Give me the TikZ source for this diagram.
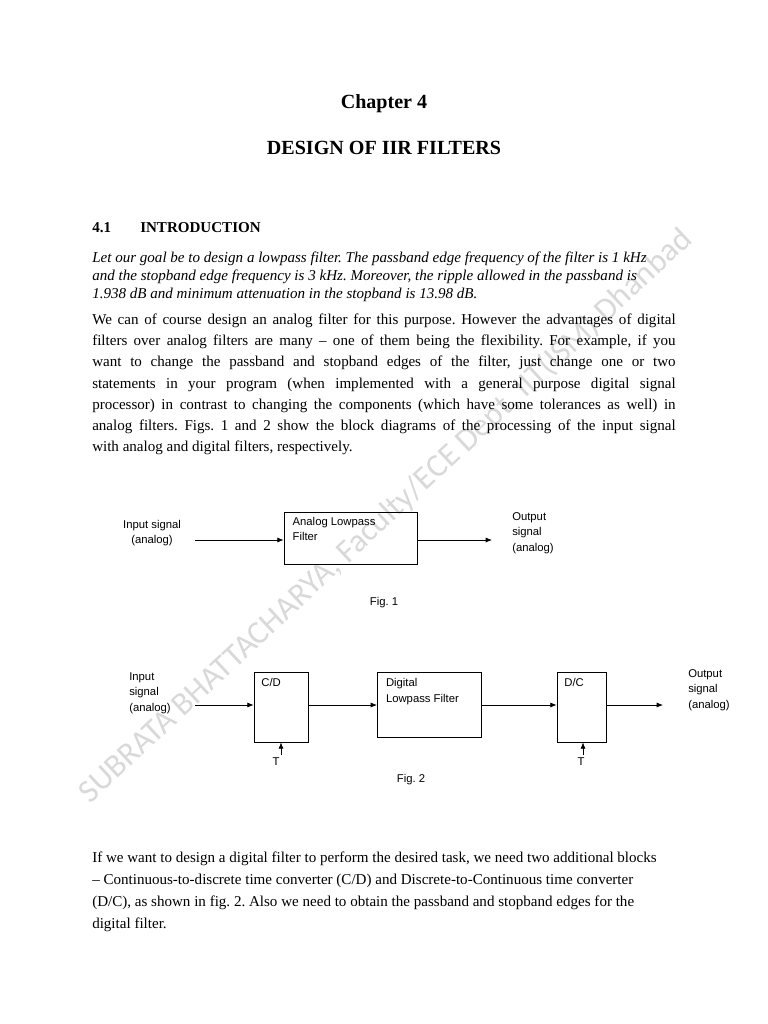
\documentclass[tikz,border=0pt]{standalone}
\usepackage{fontspec}
\setmainfont{Liberation Serif}
\newfontfamily\diag{Liberation Sans}
\newfontfamily\wm{Carlito}
\usetikzlibrary{arrows.meta}
\frenchspacing
\begin{document}
\begin{tikzpicture}[x=0.797pt,y=-0.797pt,
  ln/.style={anchor=base west,inner sep=0,font=\fontsize{12}{14}\selectfont},
  jl/.style={ln},
  lab/.style={font=\diag\fontsize{9}{12.5}\selectfont,inner sep=0,align=center},
  blk/.style={draw,line width=0.6pt,inner sep=0},
  conn/.style={-{Latex[length=5pt,width=4pt]},line width=0.6pt}]
\useasboundingbox (0,0) rectangle (768,1024);
\fill[white] (0,0) rectangle (768,1024);
% watermark
\node[rotate=43,text=gray!30,font=\wm\fontsize{26}{26}\selectfont,inner sep=0] (wm) at (386,516) {SUBRATA BHATTACHARYA, Faculty/ECE Dept, IIT(ISM) Dhanbad};
% headings
\node[anchor=base,inner sep=0,font=\bfseries\fontsize{16}{18}\selectfont] (ch) at (384,108) {Chapter 4};
\node[anchor=base,inner sep=0,font=\bfseries\fontsize{16}{18}\selectfont] (tt) at (384,154) {DESIGN OF IIR FILTERS};
\node[ln,font=\bfseries\fontsize{12}{14}\selectfont] (sn) at (92,232) {4.1};
\node[ln,font=\bfseries\fontsize{12}{14}\selectfont] (st) at (140,232) {INTRODUCTION};
% para 1
\node[ln,font=\itshape\fontsize{12}{14}\selectfont] (p1a) at (92,262) {Let our goal be to design a lowpass filter. The passband edge frequency of the filter is 1 kHz};
\node[ln,font=\itshape\fontsize{12}{14}\selectfont] (p1b) at (92,280) {and the stopband edge frequency is 3 kHz. Moreover, the ripple allowed in the passband is};
\node[ln,font=\itshape\fontsize{12}{14}\selectfont] (p1c) at (92,298) {1.938 dB and minimum attenuation in the stopband is 13.98 dB.};
% para 2
\node[jl] (p2a) at (92,324) {\makebox[465pt][s]{We can of course design an analog filter for this purpose. However the advantages of digital}};
\node[jl] (p2b) at (92,345) {\makebox[465pt][s]{filters over analog filters are many -- one of them being the flexibility. For example, if you}};
\node[jl] (p2c) at (92,366) {\makebox[465pt][s]{want to change the passband and stopband edges of the filter, just change one or two}};
\node[jl] (p2d) at (92,388) {\makebox[465pt][s]{statements in your program (when implemented with a general purpose digital signal}};
\node[jl] (p2e) at (92,409) {\makebox[465pt][s]{processor) in contrast to changing the components (which have some tolerances as well) in}};
\node[jl] (p2f) at (92,430) {\makebox[465pt][s]{analog filters. Figs. 1 and 2 show the block diagrams of the processing of the input signal}};
\node[jl] (p2g) at (92,451) {with analog and digital filters, respectively.};
% Fig 1
\node[blk,minimum width=133*0.797pt,minimum height=52*0.797pt] (af) at (350.5,538) {};
\node[lab,anchor=north west,align=left] (aft) at ([xshift=7pt,yshift=-4pt]af.north west) {Analog Lowpass\\Filter};
\node[lab] (in1) at (152,533) {Input signal\\(analog)};
\node[lab,align=left,anchor=west] (out1) at (512,533) {Output\\signal\\(analog)};
\coordinate (i1) at (195,540);
\coordinate (o1) at (492,540);
\draw[conn] (i1) -- (i1 -| af.west);
\draw[conn] (af.east |- o1) -- (o1);
\node[lab] (f1) at (384,603) {Fig. 1};
% Fig 2
\node[blk,minimum width=54*0.797pt,minimum height=70*0.797pt] (cd) at (281,707) {};
\node[lab,anchor=north west] (cdt) at ([xshift=6pt,yshift=-5pt]cd.north west) {C/D};
\node[blk,minimum width=104*0.797pt,minimum height=65*0.797pt,anchor=north west] (df) at (377,672) {};
\node[lab,anchor=north west,align=left] (dft) at ([xshift=7pt,yshift=-5pt]df.north west) {Digital\\Lowpass Filter};
\node[blk,minimum width=49*0.797pt,minimum height=70*0.797pt] (dc) at (581.5,707) {};
\node[lab,anchor=north west] (dct) at ([xshift=6pt,yshift=-5pt]dc.north west) {D/C};
\node[lab,align=left] (in2) at (150,693) {Input\\signal\\(analog)};
\node[lab,align=left,anchor=west] (out2) at (688,690) {Output\\signal\\(analog)};
\coordinate (i2) at (195,705);
\coordinate (o2) at (663,705);
\draw[conn] (i2) -- (i2 -| cd.west);
\draw[conn] (cd.east |- i2) -- (i2 -| df.west);
\draw[conn] (df.east |- i2) -- (i2 -| dc.west);
\draw[conn] (dc.east |- o2) -- (o2);
\coordinate (t1) at (281,755);
\coordinate (t2) at (583,755);
\draw[conn] (t1) -- (t1 |- cd.south);
\draw[conn] (t2) -- (t2 |- dc.south);
\node[lab] (T1) at (276,762) {T};
\node[lab] (T2) at (581,762) {T};
\node[lab] (f2) at (411,780) {Fig. 2};
% para 3
\node[ln] (p3a) at (92,862) {If we want to design a digital filter to perform the desired task, we need two additional blocks};
\node[ln] (p3b) at (92,884) {-- Continuous-to-discrete time converter (C/D) and Discrete-to-Continuous time converter};
\node[ln] (p3c) at (92,906) {(D/C), as shown in fig. 2. Also we need to obtain the passband and stopband edges for the};
\node[ln] (p3d) at (92,928) {digital filter.};
\end{tikzpicture}
\end{document}
